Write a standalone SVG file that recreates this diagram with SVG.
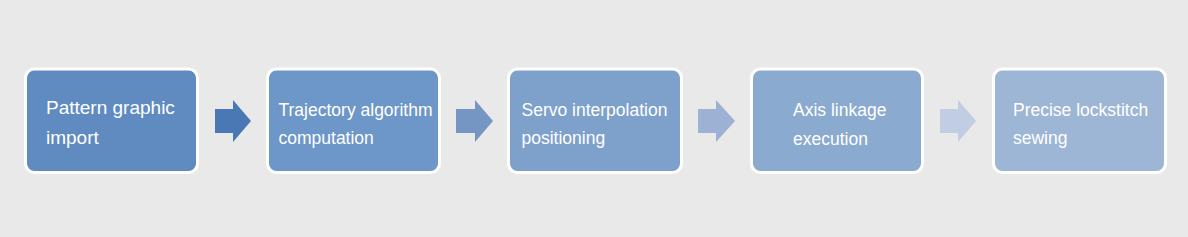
<svg xmlns="http://www.w3.org/2000/svg" width="1188" height="237" viewBox="0 0 1188 237">
<style>
.box{stroke:#ffffff;stroke-width:3}
.t{font-family:"Liberation Sans",Arial,sans-serif;font-size:17.5px;fill:#ffffff}
.t1{font-size:19px}
</style>
<rect x="0" y="0" width="1188" height="237" fill="#e9e9e9"/>
<g id="connectors">
<polygon points="215,109 233,109 233,100 251,121 233,142 233,133 215,133" fill="#4a78b4"/>
<polygon points="456,109 475,109 475,100 493,121 475,142 475,133 456,133" fill="#7595c3"/>
<polygon points="698,109 716,109 716,100 735,121 716,142 716,133 698,133" fill="#9cb1d4"/>
<polygon points="940,109 958,109 958,100 976,121 958,142 958,133 940,133" fill="#c0cde3"/>
</g>
<g id="n1">
<rect class="box" x="25.5" y="69" width="172" height="103.5" rx="9" fill="#5f8bc1"/>
<text class="t t1" x="46" y="113.5">Pattern graphic</text>
<text class="t t1" x="46" y="143.5">import</text>
</g>
<g id="n2">
<rect class="box" x="267.5" y="69" width="172" height="103.5" rx="9" fill="#6d97c8"/>
<text class="t" x="278.5" y="115.5">Trajectory algorithm</text>
<text class="t" x="278.5" y="144">computation</text>
</g>
<g id="n3">
<rect class="box" x="508.5" y="69" width="173" height="103.5" rx="9" fill="#7da1cb"/>
<text class="t" x="521.5" y="115.5">Servo interpolation</text>
<text class="t" x="521.5" y="144">positioning</text>
</g>
<g id="n4">
<rect class="box" x="751.5" y="69" width="171" height="103.5" rx="9" fill="#8baacf"/>
<text class="t" x="793" y="116">Axis linkage</text>
<text class="t" x="793" y="144.5">execution</text>
</g>
<g id="n5">
<rect class="box" x="993.5" y="69" width="172" height="103.5" rx="9" fill="#9db6d5"/>
<text class="t" x="1013" y="115.5">Precise lockstitch</text>
<text class="t" x="1013" y="144">sewing</text>
</g>
</svg>
